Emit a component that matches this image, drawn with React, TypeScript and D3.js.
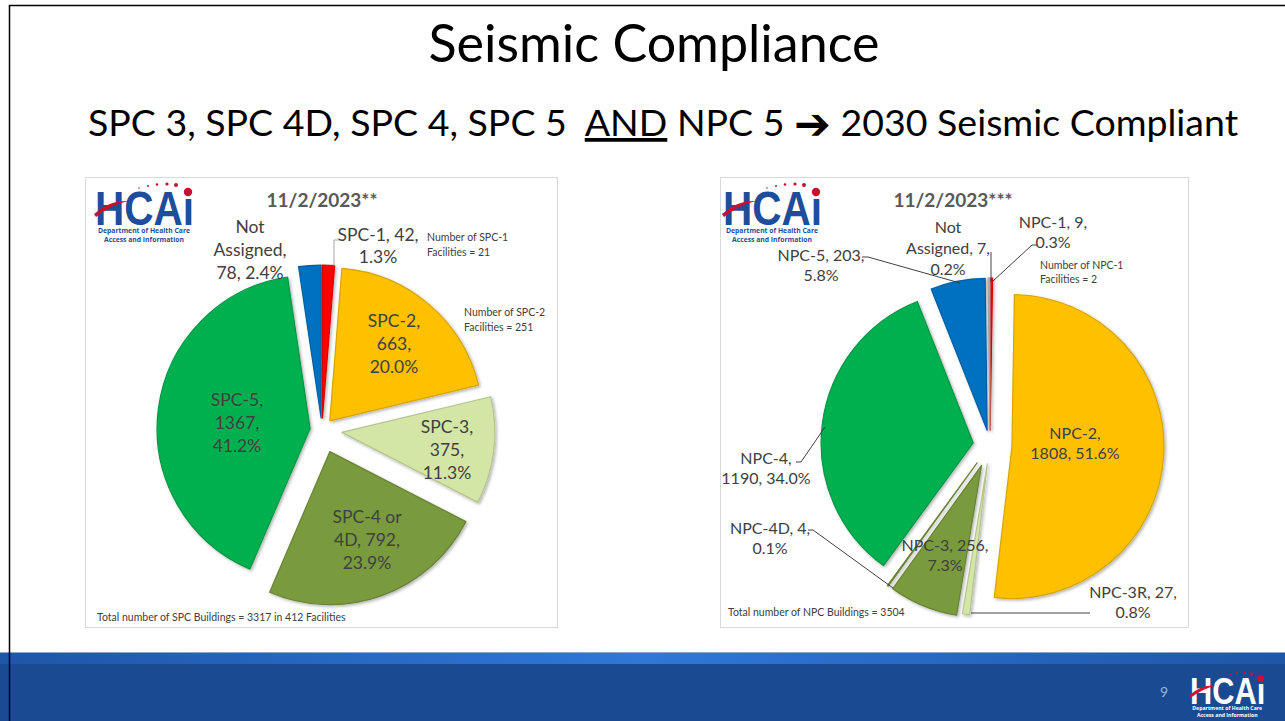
import React from "react";
import * as d3 from "d3";

// Values (11/2/2023)
const spcCategories = ["SPC-1", "SPC-2", "SPC-3", "SPC-4 or 4D", "SPC-5", "Not Assigned"];
const spcValues = [42, 663, 375, 792, 1367, 78];
const spcColors = ["#FF0000", "#FFC000", "#D4E6A6", "#799A3D", "#00B050", "#0070C0"];

const npcCategories = ["NPC-1", "NPC-2", "NPC-3R", "NPC-3", "NPC-4D", "NPC-4", "NPC-5", "Not Assigned"];
const npcValues = [9, 1808, 27, 256, 4, 1190, 203, 7];
const npcColors = ["#FF0000", "#FFC000", "#D4E6A6", "#799A3D", "#799A3D", "#00B050", "#0070C0", "#BFBFBF"];

const FONT = "Lato, 'Open Sans', sans-serif";
const LABEL = "#404040";

type LabelSpec = { x: number; y: number; lh: number; breaks: number[] };
type Leader = number[][];

// label layout per slice (same order as categories); breaks = words per line
const spcLabels: LabelSpec[] = [
  { x: 378, y: 235, lh: 22, breaks: [2, 1] },
  { x: 394, y: 321, lh: 23, breaks: [1, 1, 1] },
  { x: 447, y: 427, lh: 23, breaks: [1, 1, 1] },
  { x: 367, y: 517, lh: 23, breaks: [2, 2, 1] },
  { x: 237, y: 400, lh: 23, breaks: [1, 1, 1] },
  { x: 250, y: 227, lh: 23, breaks: [1, 1, 2] },
];
const spcLeaders: Leader[] = [[[339, 240], [334, 240], [334, 266]]];

const npcLabels: LabelSpec[] = [
  { x: 1053, y: 222, lh: 20, breaks: [2, 1] },
  { x: 1075, y: 433, lh: 20, breaks: [1, 2] },
  { x: 1133, y: 592, lh: 20, breaks: [2, 1] },
  { x: 945, y: 545, lh: 20, breaks: [2, 1] },
  { x: 770, y: 528, lh: 20, breaks: [2, 1] },
  { x: 766, y: 458, lh: 20, breaks: [1, 2] },
  { x: 821, y: 255, lh: 20, breaks: [2, 1] },
  { x: 948, y: 227, lh: 21, breaks: [1, 2, 1] },
];
const npcLeaders: Leader[] = [
  [[991, 252], [991, 282]],
  [[1037, 245], [1032, 245], [993, 281]],
  [[862, 257], [868, 257], [960, 283]],
  [[796, 462], [801, 462], [825, 427]],
  [[808, 530], [813, 530], [893, 588]],
  [[1090, 613], [971, 613]],
];

function labelLines(cat: string, value: number, total: number, breaks: number[]) {
  const pct = ((value / total) * 100).toFixed(1) + "%";
  const words = `${cat}, ${value}, ${pct}`.split(" ");
  const out: string[] = [];
  let i = 0;
  breaks.forEach((n, k) => {
    const end = k === breaks.length - 1 ? words.length : i + n;
    out.push(words.slice(i, end).join(" "));
    i = end;
  });
  return out;
}

function Pie(props: {
  cx: number; cy: number; r: number;
  categories: string[]; values: number[]; colors: string[];
  explode: number[]; labels: LabelSpec[]; size: number;
}) {
  const { cx, cy, r, categories, values, colors, explode, labels, size } = props;
  const total = d3.sum(values);
  const arcs = d3.pie<number>().sort(null).value((d) => d)(values);
  const arc = d3.arc<d3.PieArcDatum<number>>().innerRadius(0).outerRadius(r);
  return (
    <g>
      <g transform={`translate(${cx},${cy})`} filter="url(#shadow)">
        {arcs.map((a, i) => {
          const mid = (a.startAngle + a.endAngle) / 2;
          const e = explode[i];
          const c = d3.color(colors[i])!;
          return (
            <path
              key={i}
              d={arc(a) || ""}
              transform={`translate(${e * Math.sin(mid)},${-e * Math.cos(mid)})`}
              fill={colors[i]}
              stroke={c.darker(0.45).formatHex()}
              strokeWidth={1.2}
              strokeLinejoin="round"
            />
          );
        })}
      </g>
      {arcs.map((a, i) => {
        const lines = labelLines(categories[i], values[i], total, labels[i].breaks);
        return (
          <text key={i} fontFamily={FONT} fontSize={size} fill={LABEL} textAnchor="middle">
            {lines.map((l, j) => (
              <tspan key={j} x={labels[i].x} y={labels[i].y + j * labels[i].lh} dy="0.35em">{l}</tspan>
            ))}
          </text>
        );
      })}
    </g>
  );
}

function Logo(props: { x: number; y: number; s: number; color: string; red: string }) {
  const { x, y, s, color, red } = props;
  const dots = [[44, 1, 0.8], [53, -1, 1.0], [62, -2.5, 1.3], [72, -3, 1.6], [81, -2, 2.0]];
  return (
    <g transform={`translate(${x},${y}) scale(${s})`}>
      <text x={0} y={38} fontFamily="'Liberation Sans', Arial, sans-serif" fontWeight="bold"
        fontSize={48} fill={color} textLength={99} lengthAdjust="spacingAndGlyphs">HCAı</text>
      <path d="M-1,27 Q14,13 33,14 Q16,18 1,30 Z" fill={red} />
      {dots.map((d, i) => <circle key={i} cx={d[0]} cy={d[1]} r={d[2]} fill={red} />)}
      <circle cx={93} cy={5} r={4.2} fill={red} />
      <text x={49} y={46} fontFamily="'Open Sans', sans-serif" fontWeight="bold" fontSize={6.8}
        fill={color} textAnchor="middle">Department of Health Care</text>
      <text x={49} y={55} fontFamily="'Open Sans', sans-serif" fontWeight="bold" fontSize={6.8}
        fill={color} textAnchor="middle">Access and Information</text>
    </g>
  );
}

export default function App() {
  const small = { fontFamily: FONT, fontSize: 10.5, fill: LABEL };
  return (
    <svg width={1285} height={721} style={{ position: "absolute", left: 0, top: 0, background: "#fff" }}>
      <defs>
        <filter id="shadow" x="-20%" y="-20%" width="140%" height="140%">
          <feDropShadow dx="1.5" dy="1.5" stdDeviation="1.5" floodColor="#000" floodOpacity="0.3" />
        </filter>
        <linearGradient id="band" x1="0" x2="1" y1="0" y2="0">
          <stop offset="0" stopColor="#1E56A8" />
          <stop offset="0.5" stopColor="#2F78D8" />
          <stop offset="1" stopColor="#1E56A8" />
        </linearGradient>
      </defs>

      {/* slide frame */}
      <rect x={9.5} y={5.5} width={1285} height={720} fill="#fff" stroke="#000" strokeWidth={1.5} />

      {/* titles */}
      <text x={654} y={62} textAnchor="middle" fontFamily={FONT} fontSize={52} fill="#000">Seismic Compliance</text>
      <text x={663} y={136} textAnchor="middle" fontFamily={FONT} fontSize={37.5} fill="#000" xmlSpace="preserve">
        <tspan>SPC 3, SPC 4D, SPC 4, SPC 5  </tspan>
        <tspan textDecoration="underline">AND</tspan>
        <tspan> NPC 5 </tspan>
        <tspan fontFamily="'DejaVu Sans'" fontSize={44} dy={3}>➔</tspan>
        <tspan dy={-3}> 2030 Seismic Compliant</tspan>
      </text>

      {/* left panel */}
      <rect x={85.5} y={177.5} width={472} height={450} fill="#fff" stroke="#D9D9D9" />
      <Logo x={95} y={187} s={1} color="#1E4D9B" red="#C8102E" />
      <text x={322} y={207} textAnchor="middle" fontFamily={FONT} fontWeight="bold" fontSize={19} fill="#595959">11/2/2023**</text>
      <Pie cx={322} cy={430} r={153} categories={spcCategories} values={spcValues} colors={spcColors}
        explode={[12, 12, 20, 23, 12, 12]} labels={spcLabels} size={17.5} />
      {spcLeaders.map((p, i) => (
        <polyline key={i} points={p.map((q) => q.join(",")).join(" ")} fill="none" stroke="#A6A6A6" strokeWidth={1} />
      ))}
      <text {...small} x={427} y={241}>Number of SPC-1</text>
      <text {...small} x={427} y={256}>Facilities = 21</text>
      <text {...small} x={464} y={316}>Number of SPC-2</text>
      <text {...small} x={464} y={331}>Facilities = 251</text>
      <text {...small} x={97} y={621}>Total number of SPC Buildings = 3317 in 412 Facilities</text>

      {/* right panel */}
      <rect x={720.5} y={177.5} width={468} height={450} fill="#fff" stroke="#D9D9D9" />
      <Logo x={723} y={187} s={1} color="#1E4D9B" red="#C8102E" />
      <text x={953} y={207} textAnchor="middle" fontFamily={FONT} fontWeight="bold" fontSize={19} fill="#595959">11/2/2023***</text>
      <Pie cx={990} cy={445} r={152} categories={npcCategories} values={npcValues} colors={npcColors}
        explode={[15, 22, 19, 22, 22, 17, 15, 15]} labels={npcLabels} size={16} />
      {npcLeaders.map((p, i) => (
        <polyline key={i} points={p.map((q) => q.join(",")).join(" ")} fill="none" stroke="#404040" strokeWidth={1} />
      ))}
      <text {...small} x={1040} y={269}>Number of NPC-1</text>
      <text {...small} x={1040} y={283}>Facilities = 2</text>
      <text {...small} x={728} y={616}>Total number of NPC Buildings = 3504</text>

      {/* footer */}
      <rect x={0} y={652} width={1285} height={69} fill="#1A4A92" />
      <rect x={0} y={652} width={1285} height={12} fill="url(#band)" />
      <line x1={0} x2={1285} y1={652.5} y2={652.5} stroke="#8FA6C9" />
      <line x1={9.5} x2={9.5} y1={652} y2={721} stroke="#000" strokeWidth={1.5} />
      <text x={1160} y={697} fontFamily={FONT} fontSize={14} fill="#9FB3D6">9</text>
      <Logo x={1190} y={675} s={0.76} color="#FFFFFF" red="#D0102E" />
    </svg>
  );
}
